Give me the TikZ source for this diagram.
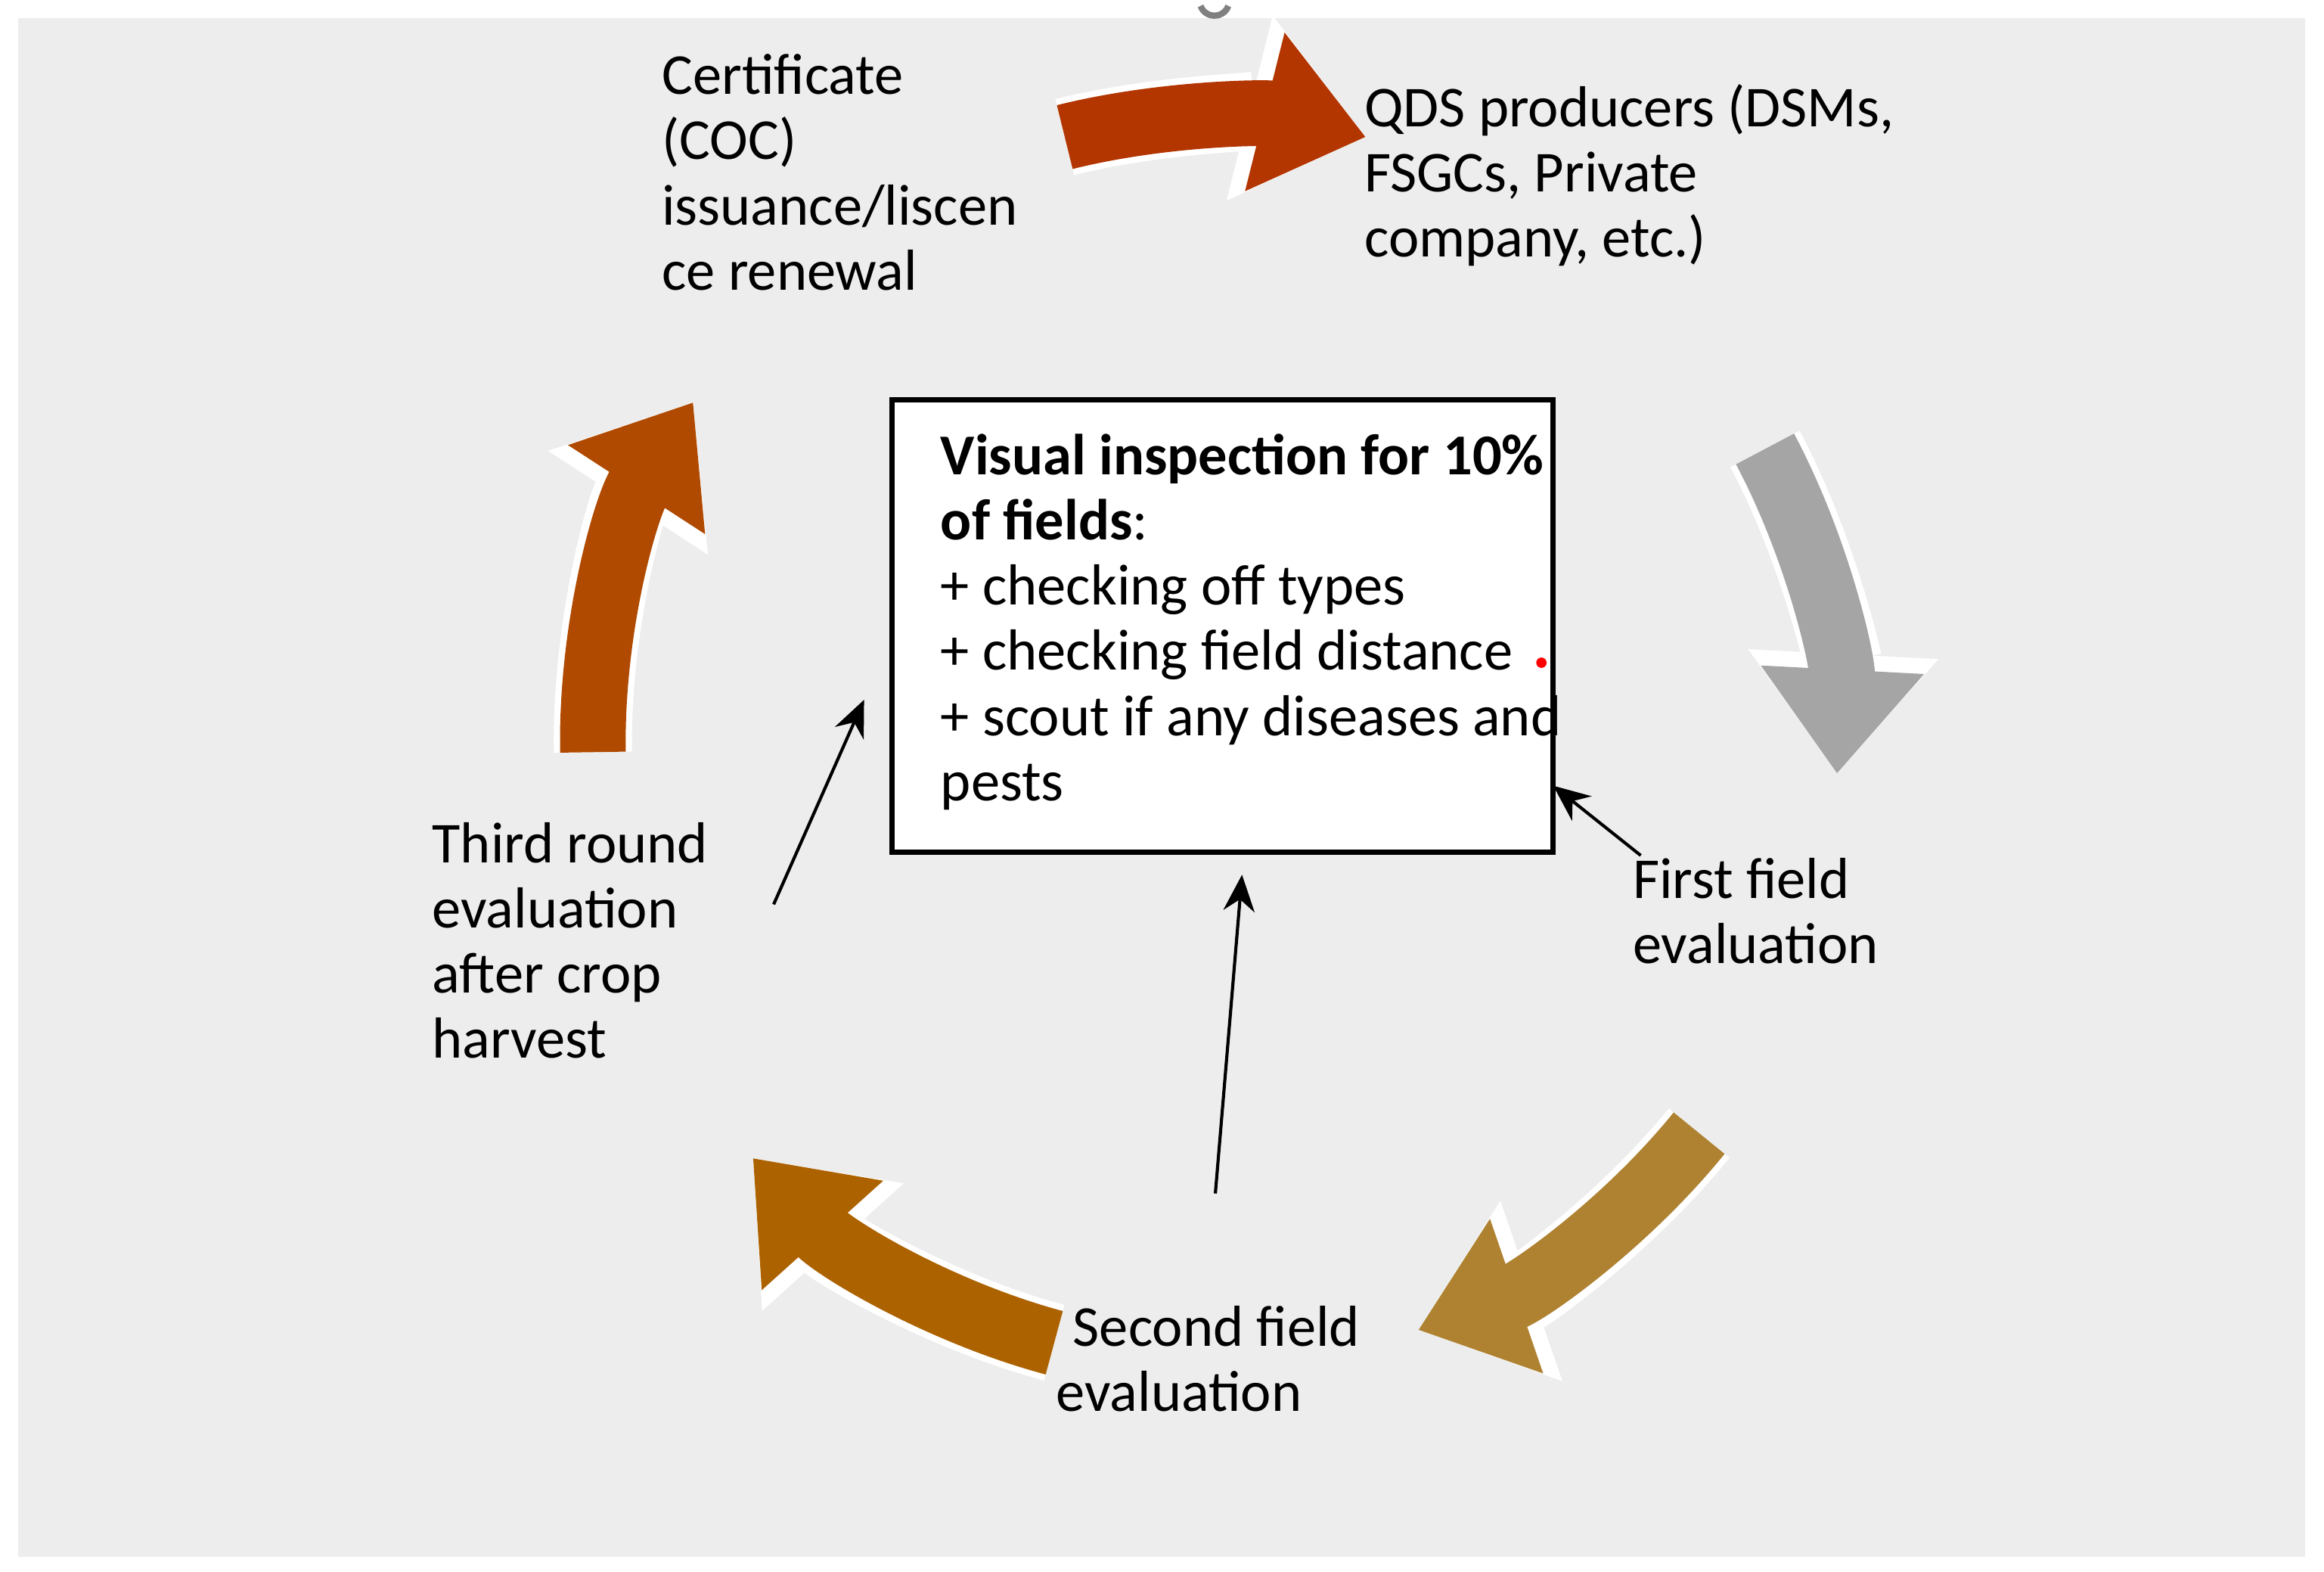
\documentclass[tikz,border=0pt]{standalone}
\usepackage{fontspec}
\setmainfont{Carlito}
\usetikzlibrary{arrows.meta,calc}
\definecolor{bg}{HTML}{EDEDED}
\definecolor{c1}{HTML}{B33500}
\definecolor{c2}{HTML}{A5A5A5}
\definecolor{c3}{HTML}{AE8231}
\definecolor{c4}{HTML}{AD6200}
\definecolor{c5}{HTML}{B04A00}
\begin{document}
\begin{tikzpicture}[x=0.01cm,y=0.01cm,
  lbl/.style={anchor=north west,inner sep=0,align=left,font=\fontsize{11.1}{12.5}\selectfont},
  pt/.style={-{Stealth[length=7pt,width=6pt]},line width=0.6pt}]
\useasboundingbox (0,0) rectangle (1568,1060);
\fill[bg] (12,10) rectangle (1555,1048);
\coordinate (O) at (820,560);
\newcommand\cyc[3]{%
 \draw[white,line width=15pt,-{Triangle[length=23pt,width=35pt]}] ($(O)+(#1:420)$) arc[start angle=#1,end angle=#2,radius=420];
 \draw[#3,line width=12.6pt,-{Triangle[length=20pt,width=30pt]}] ($(O)+(#1:420)$) arc[start angle=#1,end angle=#2,radius=420];}
\cyc{104}{76}{c1}
\cyc{28}{-3}{c2}
\cyc{-39}{-71}{c3}
\cyc{-105}{-138}{c4}
\cyc{181}{147}{c5}
\draw[gray,line width=1.2pt] (810,1056) arc[start angle=200,end angle=340,radius=10];
\node[draw,line width=1pt,fill=white,minimum width=4.46cm,minimum height=3.05cm,anchor=north west,inner sep=0] (box) at (600,792) {};
\node[lbl] (boxt) at (634,768) {\textbf{Visual inspection for 10\%}\\\textbf{of fields}:\\+ checking off types\\+ checking field distance\\+ scout if any diseases and\\pests};
\fill[red] (1040,613) circle (3.5);
\node[lbl] (cert) at (446,1024) {Certificate\\(COC)\\issuance/liscen\\ce renewal};
\node[lbl] (qds) at (920,1004) {QDS producers (DSMs,\\FSGCs, Private\\company, etc.)};
\node[lbl] (first) at (1101,482) {First field\\evaluation};
\node[lbl] (second) at (712,180) {\hspace*{8\pgflinewidth}Second field\\evaluation};
\node[lbl] (third) at (291,506) {Third round\\evaluation\\after crop\\harvest};
\coordinate (a1) at (1107,483);
\coordinate (a2) at (820,255);
\coordinate (a3) at (522,450);
\coordinate (b1) at (1048,530);
\coordinate (b2) at (838,470);
\coordinate (b3) at (583,588);
\draw[pt] (a1) -- (b1);
\draw[pt] (a2) -- (b2);
\draw[pt] (a3) -- (b3);
\end{tikzpicture}
\end{document}
